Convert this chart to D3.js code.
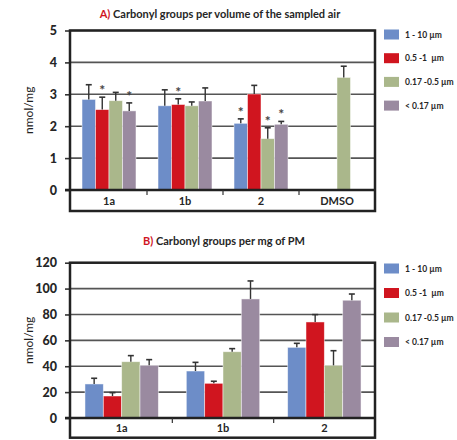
<!DOCTYPE html>
<html>
<head>
<meta charset="utf-8">
<script src="https://cdn.jsdelivr.net/npm/d3@7"></script>
<style>
  body { margin: 0; background: #fff; }
  text { font-family: Lato, "Open Sans", sans-serif; }
</style>
</head>
<body>
<div id="chart"></div>
<script>
// size fractions (legend) and colours
const sizes = ["1 - 10 \u00b5m", "0.5 -1  \u00b5m", "0.17 -0.5 \u00b5m", "< 0.17 \u00b5m"];
const colors = ["#6d8dc8", "#d0151f", "#aab78b", "#9a8aa0"];

// panel A
const sitesA = ["1a", "1b", "2", "DMSO"];
const meanA = [
    [2.84, 2.64, 2.09, null],
    [2.52, 2.68, 3.01, null],
    [2.80, 2.64, 1.61, 3.53],
    [2.48, 2.79, 2.06, null]
];
const errA = [
    [0.46, 0.50, 0.14, null],
    [0.39, 0.18, 0.27, null],
    [0.26, 0.12, 0.34, 0.35],
    [0.25, 0.41, 0.09, null]
];
const starA = [
    [false, false, true, false],
    [true, true, false, false],
    [false, false, true, false],
    [true, false, true, false]
];
const ticksA = [0, 1, 2, 3, 4, 5];

// panel B
const sitesB = ["1a", "1b", "2"];
const meanB = [
    [26.3, 36.3, 54.6],
    [17.0, 26.8, 74.2],
    [43.5, 51.2, 40.7],
    [40.7, 92.0, 91.0]
];
const errB = [
    [4.4, 6.7, 3.1],
    [2.6, 1.6, 5.7],
    [4.7, 2.4, 11.3],
    [4.4, 13.9, 4.8]
];
const ticksB = [0, 20, 40, 60, 80, 100, 120];

var svg = d3.select("#chart").append("svg")
    .attr("width", 457)
    .attr("height", 440);

function panel(opt) {
    var g = svg.append("g");
    var left = 70, right = 375;

    var x0 = d3.scaleBand()
        .domain(opt.sites)
        .range([71, right])
        .paddingInner(opt.pad)
        .paddingOuter(opt.pad / 2);
    var x1 = d3.scaleBand()
        .domain(d3.range(sizes.length))
        .range([0, x0.bandwidth()]);
    var y = d3.scaleLinear()
        .domain([0, opt.ticks[opt.ticks.length - 1]])
        .range([opt.y0, opt.y1]);

    // title
    var t = g.append("text")
        .attr("x", opt.titleX)
        .attr("y", opt.titleY)
        .attr("text-anchor", "middle")
        .style("font-size", "11px")
        .style("font-weight", "bold")
        .style("fill", "#262626");
    t.append("tspan").style("fill", "#d0151f").text(opt.letter + ")");
    t.append("tspan").text(" " + opt.title);

    // gridlines
    g.append("g").selectAll("line")
        .data(opt.ticks.slice(1))
        .enter().append("line")
        .attr("x1", left).attr("x2", right)
        .attr("y1", d => y(d)).attr("y2", d => y(d))
        .attr("stroke", "#555")
        .attr("stroke-width", 1.6);

    // y axis ticks + labels
    var ax = g.append("g")
        .attr("transform", "translate(" + left + ",0)")
        .call(d3.axisLeft(y).tickValues(opt.ticks).tickFormat(d3.format("d")).tickSize(5).tickPadding(8));
    ax.select(".domain").remove();
    ax.selectAll(".tick line").attr("stroke", "#333").attr("stroke-width", 1.6);
    ax.selectAll("text")
        .style("font-family", "Lato, sans-serif")
        .style("font-size", "12.5px")
        .style("font-weight", "900")
        .style("fill", "#262626");

    g.append("text")
        .attr("transform", "translate(" + opt.labelX + "," + (opt.y0 + opt.y1) / 2 + ") rotate(-90)")
        .attr("text-anchor", "middle")
        .style("font-size", "12px")
        .style("fill", "#222")
        .text("nmol/mg");

    // bars
    sizes.forEach(function(s, i) {
        var rows = opt.sites.map((site, j) => ({ site: site, v: opt.mean[i][j], e: opt.err[i][j], star: opt.star ? opt.star[i][j] : false }))
            .filter(d => d.v != null);
        var sg = g.append("g");
        sg.selectAll("rect")
            .data(rows)
            .enter().append("rect")
            .attr("x", d => x0(d.site) + x1(i))
            .attr("y", d => y(d.v))
            .attr("width", x1.bandwidth())
            .attr("height", d => y(0) - y(d.v))
            .attr("fill", colors[i])
            .attr("stroke", "#fff")
            .attr("stroke-opacity", 0.6)
            .attr("stroke-width", 0.8);
        // error bars
        sg.selectAll("line.err")
            .data(rows)
            .enter().append("line")
            .attr("class", "err")
            .attr("x1", d => x0(d.site) + x1(i) + x1.bandwidth() / 2)
            .attr("x2", d => x0(d.site) + x1(i) + x1.bandwidth() / 2)
            .attr("y1", d => y(d.v))
            .attr("y2", d => y(d.v + d.e))
            .attr("stroke", "#333")
            .attr("stroke-width", 1.4);
        sg.selectAll("line.cap")
            .data(rows)
            .enter().append("line")
            .attr("class", "cap")
            .attr("x1", d => x0(d.site) + x1(i) + x1.bandwidth() / 2 - 3)
            .attr("x2", d => x0(d.site) + x1(i) + x1.bandwidth() / 2 + 3)
            .attr("y1", d => y(d.v + d.e))
            .attr("y2", d => y(d.v + d.e))
            .attr("stroke", "#333")
            .attr("stroke-width", 1.6);
        sg.selectAll("text.star")
            .data(rows.filter(d => d.star))
            .enter().append("text")
            .attr("class", "star")
            .attr("x", d => x0(d.site) + x1(i) + x1.bandwidth() / 2)
            .attr("y", d => y(d.v + d.e) - 2)
            .attr("text-anchor", "middle")
            .style("font-size", "14px")
            .style("font-weight", "bold")
            .style("fill", "#444")
            .text("*");
    });

    // box and zero axis
    g.append("rect")
        .attr("x", left).attr("y", opt.y1)
        .attr("width", right - left)
        .attr("height", opt.boxBottom - opt.y1)
        .attr("fill", "none")
        .attr("stroke", "#222")
        .attr("stroke-width", 2.5);
    g.append("line")
        .attr("x1", left - 5).attr("x2", right)
        .attr("y1", y(0)).attr("y2", y(0))
        .attr("stroke", "#222")
        .attr("stroke-width", 2.5);

    // category separators and labels
    g.append("g").selectAll("line")
        .data(opt.sites.slice(1))
        .enter().append("line")
        .attr("x1", d => x0(d) - x0.step() * opt.pad / 2)
        .attr("x2", d => x0(d) - x0.step() * opt.pad / 2)
        .attr("y1", y(0)).attr("y2", y(0) + 5)
        .attr("stroke", "#333")
        .attr("stroke-width", 1.2);
    g.append("g").selectAll("text")
        .data(opt.sites)
        .enter().append("text")
        .attr("x", d => x0(d) + x0.bandwidth() / 2)
        .attr("y", (y(0) + opt.boxBottom) / 2 + 4)
        .attr("text-anchor", "middle")
        .style("font-size", "11px")
        .style("font-weight", "bold")
        .style("fill", "#262626")
        .text(d => d);

    // legend
    var lg = g.append("g").selectAll("g")
        .data(sizes)
        .enter().append("g")
        .attr("transform", (d, i) => "translate(384," + (opt.legY + i * opt.legStep) + ")");
    lg.append("rect")
        .attr("width", 15).attr("height", 10)
        .attr("fill", (d, i) => colors[i]);
    lg.append("text")
        .attr("x", 21).attr("y", 8)
        .style("font-size", "8.5px")
        .style("font-weight", "bold")
        .style("white-space", "pre")
        .style("fill", "#262626")
        .text(d => d);
}

panel({
    letter: "A", title: "Carbonyl groups per volume of the sampled air",
    titleX: 220, titleY: 18,
    sites: sitesA, mean: meanA, err: errA, star: starA, ticks: ticksA,
    pad: 0.29, y0: 190, y1: 30.5, boxBottom: 211, labelX: 33,
    legY: 29.5, legStep: 23.7
});

panel({
    letter: "B", title: "Carbonyl groups per mg of PM",
    titleX: 224, titleY: 244.5,
    sites: sitesB, mean: meanB, err: errB, ticks: ticksB,
    pad: 0.276, y0: 418, y1: 262.7, boxBottom: 437.7, labelX: 33,
    legY: 263.5, legStep: 24.5
});
</script>
</body>
</html>
